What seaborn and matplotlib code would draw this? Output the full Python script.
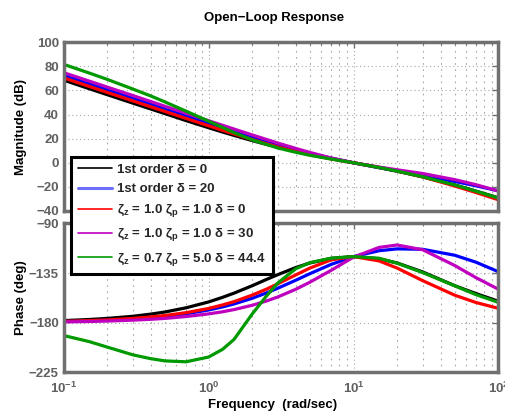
import matplotlib
matplotlib.use("Agg")
import matplotlib.pyplot as plt
import seaborn as sns
from matplotlib.ticker import FixedLocator, FixedFormatter, LogLocator, NullFormatter

# Frequency grid (rad/sec)
freq = [0.1, 0.15, 0.2, 0.3, 0.4, 0.5, 0.7, 1, 1.25, 1.5, 2, 2.5, 3, 4, 5, 7,
        10, 15, 20, 30, 50, 70, 100]

# Magnitude (dB)
mag_first_d0 = [68.6, 61.5, 56.5, 49.5, 44.6, 40.8, 35.0, 29.1, 25.5, 22.7, 18.4, 15.3,
                13.0, 9.5, 7.0, 3.5, 0.0, -4.0, -7.0, -11.7, -18.4, -23.5, -29.1]
mag_first_d20 = [72.6, 65.5, 60.5, 53.5, 48.5, 44.6, 38.9, 32.7, 29.0, 25.9, 21.2, 17.7,
                 15.0, 10.9, 7.9, 3.9, 0.0, -4.0, -6.7, -10.5, -15.5, -19.1, -23.3]
mag_z10_p10_d0 = [70.5, 63.4, 58.4, 51.4, 46.4, 42.6, 36.8, 30.7, 26.9, 23.9, 19.3, 15.9,
                  13.2, 9.3, 6.7, 3.2, 0.0, -3.7, -6.7, -11.7, -19.3, -24.7, -30.7]
mag_z10_p10_d30 = [74.8, 67.8, 62.8, 55.8, 50.8, 46.9, 41.1, 34.9, 31.1, 28.0, 23.1, 19.4,
                   16.4, 11.9, 8.6, 4.0, 0.0, -3.6, -5.8, -8.9, -14.0, -18.2, -23.4]
mag_z07_p50_d44 = [81.7, 74.5, 69.2, 61.2, 55.4, 50.5, 42.8, 34.5, 29.3, 25.0, 19.0, 15.3,
                   12.3, 8.7, 6.2, 3.1, 0.0, -3.9, -6.9, -11.6, -18.4, -23.6, -29.3]

# Phase (deg)
ph_first_d0 = [-178.0, -177.0, -176.0, -174.1, -172.1, -170.2, -166.4, -161.1, -156.9,
               -153.1, -146.4, -140.8, -136.4, -129.9, -125.8, -121.6, -120.0, -122.0,
               -125.8, -133.9, -146.4, -153.5, -160.5]
ph_first_d20 = [-178.8, -178.2, -177.6, -176.5, -175.3, -174.1, -171.8, -168.4, -165.6,
                -162.9, -157.8, -153.0, -148.7, -141.4, -135.5, -127.1, -120.0, -114.7,
                -113.0, -113.4, -118.8, -125.1, -133.7]
ph_z10_p10_d0 = [-178.7, -178.0, -177.4, -176.0, -174.7, -173.4, -170.8, -167.0, -163.8,
                 -160.8, -154.9, -149.6, -144.7, -136.6, -130.4, -123.0, -120.0, -123.9,
                 -130.4, -141.8, -155.0, -161.6, -166.9]
ph_z10_p10_d30 = [-179.2, -178.8, -178.4, -177.6, -176.8, -176.0, -174.3, -171.9, -170.0,
                  -168.0, -164.1, -160.3, -156.6, -149.6, -143.2, -132.5, -120.5, -111.7,
                  -109.5, -113.8, -128.1, -139.1, -149.6]
ph_z07_p50_d44 = [-191.5, -197.0, -202.0, -209.0, -212.5, -214.5, -215.3, -211.0, -204.0,
                  -195.0, -172.0, -156.0, -144.0, -131.0, -125.5, -121.5, -120.0, -121.5,
                  -126.0, -134.5, -146.5, -154.5, -161.5]

labels = ["1st order δ = 0",
          "1st order δ = 20",
          "ζ$_z$ = 1.0 ζ$_p$ = 1.0 δ = 0",
          "ζ$_z$ = 1.0 ζ$_p$ = 1.0 δ = 30",
          "ζ$_z$ = 0.7 ζ$_p$ = 5.0 δ = 44.4"]
colors = ["#000000", "#0000ff", "#ff0000", "#bf00bf", "#009a00"]
mags = [mag_first_d0, mag_first_d20, mag_z10_p10_d0, mag_z10_p10_d30, mag_z07_p50_d44]
phases = [ph_first_d0, ph_first_d20, ph_z10_p10_d0, ph_z10_p10_d30, ph_z07_p50_d44]

mag_ticks = [-40, -20, 0, 20, 40, 60, 80, 100]
phase_ticks = [-225, -180, -135, -90]
freq_ticks = [0.1, 1, 10, 100]
freq_ticklabels = ["$10^{-1}$", "$10^{0}$", "$10^{1}$", "$10^{2}$"]

sns.set_theme(style="white")
plt.rcParams.update({
    "font.family": ["Liberation Sans", "DejaVu Sans"],
    "font.weight": "bold",
    "mathtext.fontset": "custom",
    "mathtext.rm": "Liberation Sans:bold",
    "mathtext.it": "Liberation Sans:bold",
    "mathtext.bf": "Liberation Sans:bold",
    "axes.unicode_minus": True,
})

FRAME = "#707070"
TICKTXT = "#606060"
GRID = "#a8a8a8"
FS = 9.5

fig = plt.figure(figsize=(5.05, 4.12), dpi=100)
ax_mag = fig.add_axes([0.126, 0.4879, 0.861, 0.4095])
ax_ph = fig.add_axes([0.126, 0.0959, 0.861, 0.3617])

for m, p, c in zip(mags, phases, colors):
    sns.lineplot(x=freq, y=m, ax=ax_mag, color=c, linewidth=2.3,
                 sort=False, estimator=None, legend=False)
    sns.lineplot(x=freq, y=p, ax=ax_ph, color=c, linewidth=2.3,
                 sort=False, estimator=None, legend=False)

for ax, yt, ylim in ((ax_mag, mag_ticks, (-40, 100)), (ax_ph, phase_ticks, (-225, -90))):
    ax.set_xscale("log")
    ax.set_xlim(0.1, 100)
    ax.set_ylim(*ylim)
    ax.yaxis.set_major_locator(FixedLocator(yt))
    ax.xaxis.set_major_locator(FixedLocator(freq_ticks))
    ax.xaxis.set_minor_locator(LogLocator(base=10, subs=range(2, 10)))
    ax.xaxis.set_minor_formatter(NullFormatter())
    ax.set_facecolor("white")
    for sp in ax.spines.values():
        sp.set_visible(True)
        sp.set_color(FRAME)
        sp.set_linewidth(2.5)
    ax.tick_params(which="both", direction="in", top=True, right=True,
                   color=FRAME, labelcolor=TICKTXT, labelsize=FS)
    ax.tick_params(which="major", length=4, width=1)
    ax.tick_params(which="minor", length=2, width=0.8)
    ax.grid(True, which="major", linestyle=(0, (1, 2.5)), color=GRID, linewidth=0.8)
    ax.grid(True, which="minor", axis="x", linestyle=(0, (1.5, 4)), color=GRID, linewidth=0.8)
    ax.set_xlabel("")
    ax.set_ylabel("")
    for t in ax.get_yticklabels():
        t.set_fontweight("bold")

ax_mag.xaxis.set_major_formatter(NullFormatter())
ax_ph.xaxis.set_major_formatter(FixedFormatter(freq_ticklabels))
ax_ph.tick_params(axis="x", pad=6)

fig.text(274 / 505, 1 - 18.3 / 412, "Open\u2212Loop Response", ha="center", va="center",
         fontsize=FS, fontweight="bold", color="black")
fig.text(21 / 505, 1 - 127 / 412, "Magnitude (dB)", rotation=90, ha="center", va="center",
         fontsize=FS, fontweight="bold", color="black")
fig.text(21 / 505, 1 - 298 / 412, "Phase (deg)", rotation=90, ha="center", va="center",
         fontsize=FS, fontweight="bold", color="black")
fig.text(273 / 505, 1 - 405 / 412, "Frequency  (rad/sec)", ha="center", va="center",
         fontsize=FS, fontweight="bold", color="black")

leg = fig.legend(ax_mag.get_lines()[:5], labels, loc="upper left",
                 bbox_to_anchor=(71 / 505, 1 - 157 / 412), borderaxespad=0,
                 fancybox=False, framealpha=1, edgecolor="black",
                 prop={"size": FS, "weight": "bold"},
                 handlelength=2.6, handletextpad=0.4, labelspacing=0.54,
                 borderpad=0.5)
leg.get_frame().set_linewidth(2.2)
for i, ln in enumerate(leg.get_lines()):
    if i == 1:
        ln.set_linewidth(2.2)
        ln.set_color("#6f6fff")
    else:
        ln.set_linewidth(1.2)

fig.savefig("out.png", dpi=100)
